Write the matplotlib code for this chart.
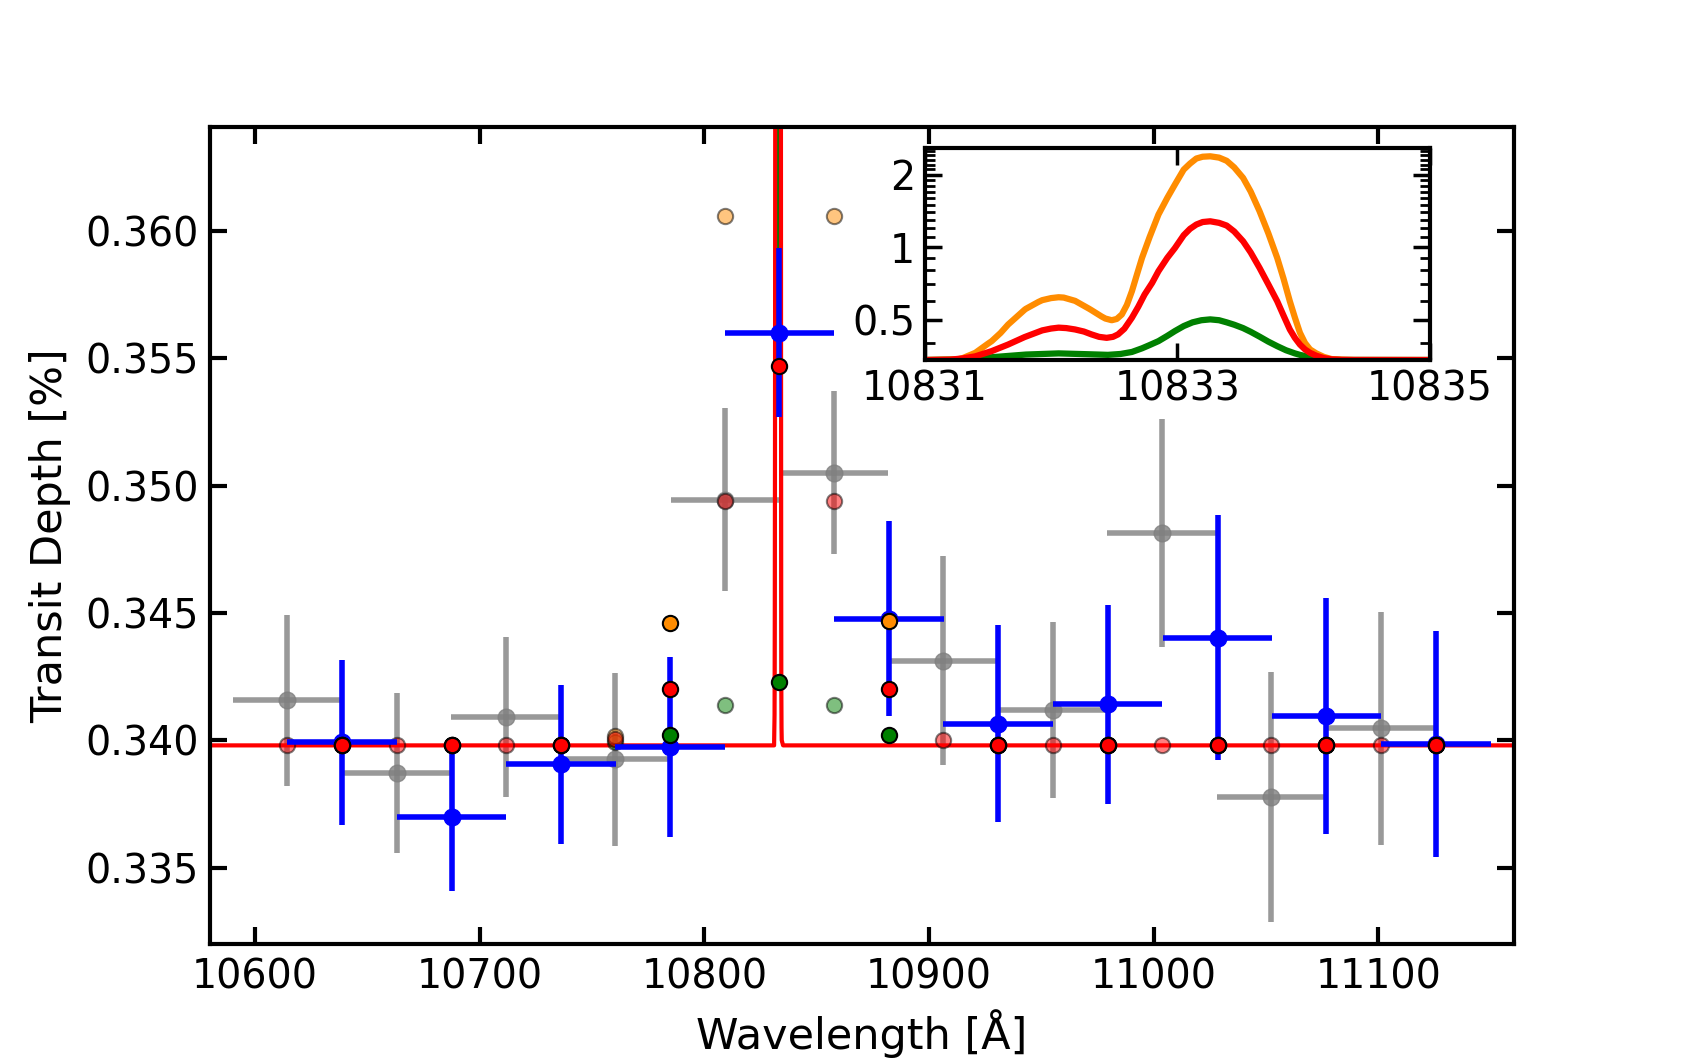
import numpy as np
import matplotlib
matplotlib.use('Agg')
import matplotlib.pyplot as plt
from matplotlib.ticker import FixedLocator, NullFormatter

nan = np.nan

# binned transit depth, offset bins (gray)
gray_wl = [10614.3, 10663.0, 10711.5, 10760.2, 10809.3, 10857.5, 10906.2, 10955.1, 11003.5, 11052.3, 11101.3]
gray_depth = [0.34157, 0.33872, 0.34091, 0.33925, 0.34945, 0.35050, 0.34313, 0.34119, 0.34814, 0.33778, 0.34047]
gray_err = [0.00335, 0.00315, 0.00314, 0.00340, 0.00360, 0.00320, 0.00410, 0.00345, 0.00447, 0.00490, 0.00458]

# binned transit depth, main bins (blue)
blue_wl = [10638.6, 10687.4, 10736.2, 10784.6, 10833.4, 10882.1, 10930.6, 10979.5, 11028.4, 11076.8, 11125.6]
blue_depth = [0.33992, 0.33700, 0.33905, 0.33975, 0.35601, 0.34478, 0.34065, 0.34141, 0.34403, 0.34095, 0.33985]
blue_err = [0.00324, 0.00291, 0.00313, 0.00353, 0.00332, 0.00383, 0.00387, 0.00392, 0.00480, 0.00463, 0.00445]
bin_half = 24.35

# models binned to the gray bins (only the visible ones)
orange_gray = [nan, nan, nan, 0.34015, 0.3606, 0.3606, nan, nan, nan, nan, nan]
red_gray = [0.3398, 0.3398, 0.3398, 0.34005, 0.3494, 0.3494, 0.3400, 0.3398, 0.3398, 0.3398, 0.3398]
green_gray = [nan, nan, nan, 0.33995, 0.3414, 0.3414, nan, nan, nan, nan, nan]

# models binned to the blue bins
orange_blue = [0.3398, 0.3398, 0.3398, 0.3446, 0.3720, 0.3447, 0.3398, 0.3398, 0.3398, 0.3398, 0.3398]
red_blue = [0.3398, 0.3398, 0.3398, 0.3420, 0.3547, 0.3420, 0.3398, 0.3398, 0.3398, 0.3398, 0.3398]
green_blue = [0.3398, 0.3398, 0.3398, 0.3402, 0.3423, 0.3402, 0.3398, 0.3398, 0.3398, 0.3398, 0.3398]

# high resolution models around the He triplet
orange_wl = [10831.0, 10831.2, 10831.27, 10831.3, 10831.4, 10831.5, 10831.53, 10831.6, 10831.66, 10831.7,
             10831.79, 10831.8, 10831.9, 10831.93, 10832.0, 10832.06, 10832.1, 10832.19, 10832.2, 10832.3,
             10832.32, 10832.4, 10832.43, 10832.48, 10832.52, 10832.56, 10832.6, 10832.64, 10832.68, 10832.72,
             10832.78, 10832.85, 10832.92, 10832.98, 10833.05, 10833.1, 10833.15, 10833.2, 10833.26, 10833.33,
             10833.39, 10833.45, 10833.52, 10833.58, 10833.65, 10833.72, 10833.79, 10833.84, 10833.89, 10833.93,
             10833.97, 10834.01, 10834.05, 10834.1, 10834.16, 10834.22, 10834.3, 10834.4, 10835.0]
orange_model = [0.3398, 0.341, 0.343, 0.346, 0.364, 0.397, 0.407, 0.440, 0.477, 0.498,
                0.549, 0.554, 0.592, 0.602, 0.614, 0.619, 0.617, 0.598, 0.594, 0.555,
                0.547, 0.515, 0.505, 0.497, 0.503, 0.525, 0.575, 0.656, 0.77, 0.902,
                1.10, 1.364, 1.60, 1.816, 2.096, 2.22, 2.33, 2.37, 2.38, 2.35,
                2.28, 2.14, 1.936, 1.70, 1.41, 1.14, 0.902, 0.74, 0.596, 0.51,
                0.441, 0.40, 0.376, 0.362, 0.350, 0.343, 0.341, 0.3400, 0.3398]

red_wl = [10570.0, 10831.0, 10831.2, 10831.3, 10831.4, 10831.53, 10831.66, 10831.79, 10831.93, 10832.0,
          10832.06, 10832.12, 10832.19, 10832.26, 10832.32, 10832.38, 10832.44, 10832.49, 10832.53, 10832.58,
          10832.64, 10832.69, 10832.74, 10832.8, 10832.85, 10832.92, 10832.98, 10833.05, 10833.1, 10833.15,
          10833.2, 10833.26, 10833.33, 10833.39, 10833.45, 10833.52, 10833.58, 10833.65, 10833.72, 10833.79,
          10833.84, 10833.89, 10833.93, 10833.97, 10834.01, 10834.05, 10834.1, 10834.16, 10834.22, 10834.3,
          10834.4, 10835.0, 11170.0]
red_model = [0.3398, 0.3398, 0.341, 0.345, 0.352, 0.370, 0.394, 0.423, 0.451, 0.459,
             0.463, 0.461, 0.455, 0.446, 0.434, 0.424, 0.420, 0.424, 0.434, 0.458,
             0.509, 0.565, 0.635, 0.71, 0.794, 0.902, 0.99, 1.12, 1.19, 1.24,
             1.27, 1.279, 1.26, 1.228, 1.16, 1.057, 0.95, 0.820, 0.70, 0.596,
             0.52, 0.455, 0.42, 0.394, 0.376, 0.364, 0.354, 0.346, 0.342, 0.3405,
             0.3400, 0.3398, 0.3398]

green_wl = [10570.0, 10831.0, 10831.3, 10831.53, 10831.8, 10832.06, 10832.3, 10832.45, 10832.55, 10832.64,
            10832.72, 10832.78, 10832.85, 10832.92, 10832.98, 10833.05, 10833.12, 10833.19, 10833.26, 10833.33,
            10833.39, 10833.45, 10833.52, 10833.58, 10833.65, 10833.72, 10833.79, 10833.86, 10833.93, 10833.97,
            10834.05, 10834.15, 10834.3, 10835.0, 11170.0]
green_model = [0.3398, 0.3398, 0.342, 0.349, 0.358, 0.362, 0.359, 0.357, 0.360, 0.367,
               0.380, 0.392, 0.407, 0.428, 0.448, 0.470, 0.487, 0.497, 0.501, 0.497,
               0.487, 0.476, 0.461, 0.445, 0.425, 0.405, 0.388, 0.373, 0.362, 0.357,
               0.349, 0.343, 0.340, 0.3398, 0.3398]

fig = plt.figure(figsize=(16.82, 10.62), dpi=100)
ax = fig.add_axes([0.1246, 0.1111, 0.7753, 0.7697])

ax.errorbar(gray_wl, gray_depth, xerr=bin_half, yerr=gray_err, fmt='o', color='gray',
            alpha=0.8, ms=12, elinewidth=4, capsize=0, zorder=1)
ax.plot(green_wl, green_model, color='green', lw=2, zorder=2)
ax.plot(red_wl, red_model, color='red', lw=3, zorder=2.5)

for vals, col in [(green_gray, 'green'), (orange_gray, 'darkorange'), (red_gray, 'red')]:
    ax.plot(gray_wl, vals, 'o', mfc=col, mec='black', mew=1.5, ms=11, alpha=0.5, zorder=3)

ax.errorbar(blue_wl, blue_depth, xerr=bin_half, yerr=blue_err, fmt='o', color='blue',
            ms=12, elinewidth=4, capsize=0, zorder=4)

for vals, col in [(green_blue, 'green'), (orange_blue, 'darkorange'), (red_blue, 'red')]:
    ax.plot(blue_wl, vals, 'o', mfc=col, mec='black', mew=1.5, ms=11, zorder=5)

ax.set_xlim(10579.7, 11160.2)
ax.set_ylim(0.3320, 0.3641)
ax.set_xticks([10600, 10700, 10800, 10900, 11000, 11100])
ax.set_yticks([0.335, 0.340, 0.345, 0.350, 0.355, 0.360])
ax.set_yticklabels(['0.335', '0.340', '0.345', '0.350', '0.355', '0.360'])
ax.tick_params(direction='in', length=12, width=3, top=True, right=True, pad=8)
ax.tick_params(axis='y', labelsize=28.5)
ax.tick_params(axis='x', labelsize=28.5, pad=10)
for sp in ax.spines.values():
    sp.set_linewidth(3)
ax.set_xlabel('Wavelength [Å]', fontsize=31, labelpad=8)
ax.set_ylabel('Transit Depth [%]', fontsize=31, labelpad=10)

# inset: zoom on the line core
axin = fig.add_axes([0.5498, 0.6610, 0.3004, 0.1994])
axin.plot(green_wl, green_model, color='green', lw=4.5, solid_joinstyle='round')
axin.plot(orange_wl, orange_model, color='darkorange', lw=4.5, solid_joinstyle='round')
axin.plot(red_wl, red_model, color='red', lw=4.5, solid_joinstyle='round')
axin.set_yscale('log')
axin.set_xlim(10831, 10835)
axin.set_ylim(0.3398, 2.57)
axin.set_xticks([10831, 10833, 10835])
axin.set_xticklabels(['10831', '10833', '10835'])
axin.set_yticks([0.5, 1, 2])
axin.set_yticklabels(['0.5', '1', '2'])
minor = [0.4, 0.6, 0.7, 0.8, 0.9, 1.1, 1.2, 1.3, 1.4, 1.5, 1.6, 1.7, 1.8, 1.9,
         2.1, 2.2, 2.3, 2.4, 2.5]
axin.yaxis.set_minor_locator(FixedLocator(minor))
axin.yaxis.set_minor_formatter(NullFormatter())
axin.tick_params(which='major', direction='in', length=12, width=2.5, top=True, right=True,
                 pad=7, labelsize=28.5)
axin.tick_params(which='minor', direction='in', length=7, width=2, top=True, right=True)
for sp in axin.spines.values():
    sp.set_linewidth(3)

fig.savefig('out.png', dpi=100)
